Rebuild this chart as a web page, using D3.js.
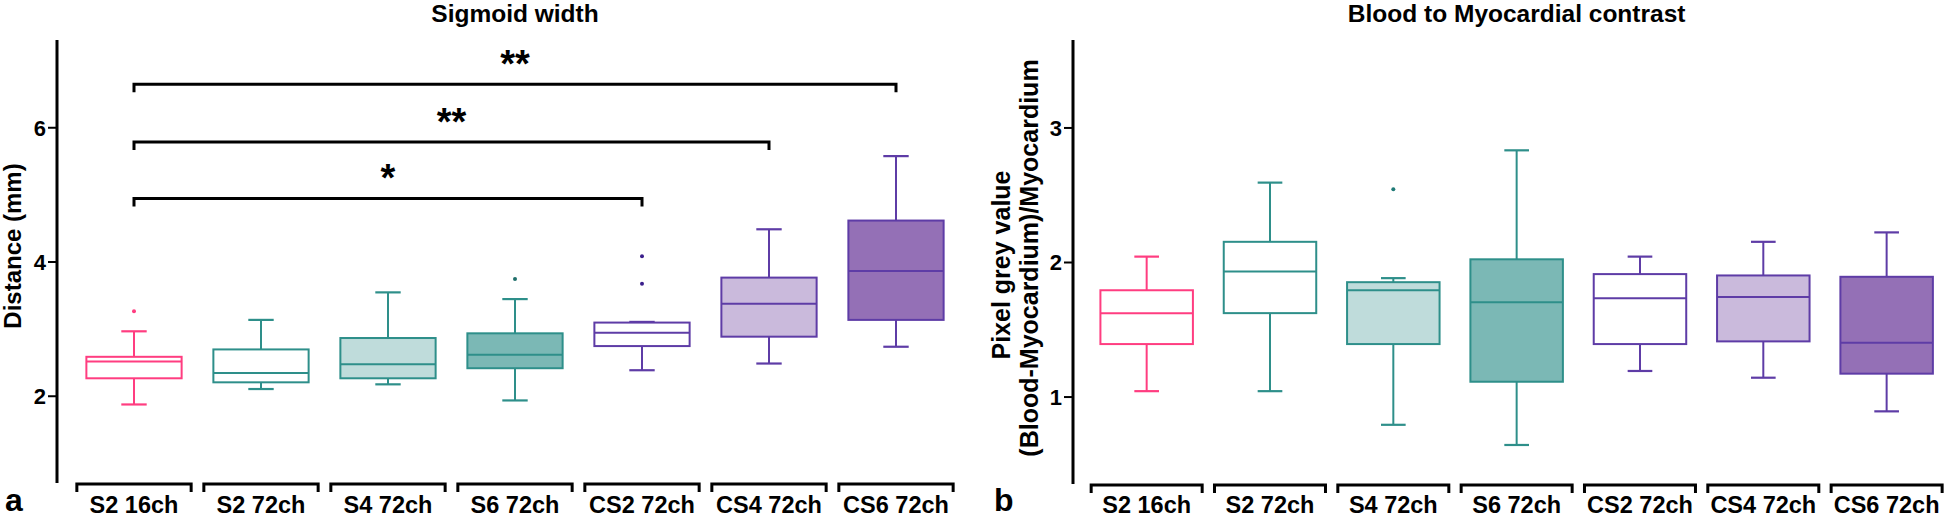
<!DOCTYPE html>
<html><head><meta charset="utf-8">
<script src="https://cdn.jsdelivr.net/npm/d3@7"></script>
<style>
html,body{margin:0;padding:0;background:#fff;}
text{font-family:"Liberation Sans",Arial,Helvetica,sans-serif;font-weight:bold;fill:#000;}
</style></head>
<body><svg id="c" width="1944" height="519"></svg>
<script>
// ---------- data ----------
const categories = ["S2 16ch","S2 72ch","S4 72ch","S6 72ch","CS2 72ch","CS4 72ch","CS6 72ch"];

// Panel a: Sigmoid width (mm)
const sigMin    = [1.87, 2.10, 2.17, 1.93, 2.38, 2.48, 2.73];
const sigQ1     = [2.26, 2.20, 2.26, 2.41, 2.74, 2.88, 3.13];
const sigMedian = [2.51, 2.34, 2.47, 2.61, 2.94, 3.37, 3.86];
const sigQ3     = [2.58, 2.69, 2.86, 2.93, 3.09, 3.76, 4.61];
const sigMax    = [2.96, 3.13, 3.54, 3.44, 3.10, 4.48, 5.57];
const sigOutliers = [[3.26], [], [], [3.74], [4.08, 3.67], [], []];
const sigTicks = [2, 4, 6];

// significance comparisons (panel a)
const compFrom  = ["S2 16ch", "S2 16ch", "S2 16ch"];
const compTo    = ["CS2 72ch", "CS4 72ch", "CS6 72ch"];
const compLevel = [4.94, 5.78, 6.64];
const compLabel = ["*", "**", "**"];

// Panel b: Blood to myocardial contrast
const conMin    = [1.04, 1.04, 0.79, 0.64, 1.19, 1.14, 0.89];
const conQ1     = [1.39, 1.62, 1.39, 1.11, 1.39, 1.41, 1.17];
const conMedian = [1.62, 1.93, 1.79, 1.70, 1.73, 1.74, 1.40];
const conQ3     = [1.79, 2.15, 1.85, 2.02, 1.91, 1.90, 1.89];
const conMax    = [2.04, 2.59, 1.88, 2.83, 2.04, 2.15, 2.22];
const conOutliers = [[], [], [2.54], [], [], [], []];
const conTicks = [1, 2, 3];

// styles per category
const strokeCol = ["#ff3d80","#2e8f8a","#2e8f8a","#2e8f8a","#5e3ca6","#5e3ca6","#5e3ca6"];
const fillCol   = ["#ffffff","#ffffff","#bfdcdb","#7bb8b5","#ffffff","#cabadc","#9470b6"];
const dotCol    = ["#ff3d80","#1f7a76","#1f7a76","#1f6f6b","#3b1f8c","#3b1f8c","#3b1f8c"];

const svg = d3.select("#c");

function panel(opt){
  const g = svg.append("g");
  const x = d3.scaleBand().domain(categories).range(opt.xr).paddingInner(0).paddingOuter(0);
  const y = d3.scaleLinear().domain(opt.yd).range([opt.yb, opt.yt]);
  const step = x.step();
  const cx = c => x(c) + step/2;
  const bw = step*0.75, cw = step*0.2, brw = step*0.9;

  // y axis
  const ax = d3.axisLeft(y).tickValues(opt.ticks).tickSize(9).tickPadding(2).tickFormat(d3.format("d"));
  const ag = g.append("g").attr("transform",`translate(${opt.ax},0)`).call(ax);
  ag.select(".domain").attr("stroke","#000").attr("stroke-width",3).attr("d",`M0,${opt.yt}V${opt.yb}`);
  ag.selectAll(".tick line").attr("stroke","#000").attr("stroke-width",2);
  ag.selectAll(".tick text").style("font-size","22px").style("font-family","'Liberation Sans',Arial,sans-serif").style("font-weight","bold").attr("fill","#000").attr("dy","0.36em");

  // category brackets + labels
  const by = opt.yb + 1;
  categories.forEach(c=>{
    const x0 = cx(c)-brw/2, x1 = cx(c)+brw/2;
    g.append("path").attr("d",`M${x0},${by+8}V${by}H${x1}V${by+8}`)
      .attr("fill","none").attr("stroke","#000").attr("stroke-width",3);
    g.append("text").attr("x",cx(c)).attr("y",513).attr("text-anchor","middle")
      .style("font-size","23.5px").text(c);
  });

  // boxes
  categories.forEach((c,i)=>{
    const X = cx(c);
    const col = strokeCol[i];
    g.append("line").attr("x1",X).attr("x2",X).attr("y1",y(opt.q3[i])).attr("y2",y(opt.max[i])).attr("stroke",col).attr("stroke-width",2);
    g.append("line").attr("x1",X).attr("x2",X).attr("y1",y(opt.q1[i])).attr("y2",y(opt.min[i])).attr("stroke",col).attr("stroke-width",2);
    g.append("line").attr("x1",X-cw/2).attr("x2",X+cw/2).attr("y1",y(opt.max[i])).attr("y2",y(opt.max[i])).attr("stroke",col).attr("stroke-width",2.2);
    g.append("line").attr("x1",X-cw/2).attr("x2",X+cw/2).attr("y1",y(opt.min[i])).attr("y2",y(opt.min[i])).attr("stroke",col).attr("stroke-width",2.2);
    g.append("rect").attr("x",X-bw/2).attr("width",bw)
      .attr("y",y(opt.q3[i])).attr("height",y(opt.q1[i])-y(opt.q3[i]))
      .attr("fill",fillCol[i]).attr("stroke",col).attr("stroke-width",2);
    g.append("line").attr("x1",X-bw/2).attr("x2",X+bw/2).attr("y1",y(opt.med[i])).attr("y2",y(opt.med[i])).attr("stroke",col).attr("stroke-width",2);
    opt.out[i].forEach(v=>{
      g.append("circle").attr("cx",X).attr("cy",y(v)).attr("r",2).attr("fill",dotCol[i]);
    });
  });

  // title
  g.append("text").attr("x",cx(categories[3])).attr("y",22).attr("text-anchor","middle")
    .style("font-size","24.5px").text(opt.title);
  // panel letter
  g.append("text").attr("x",opt.letterX).attr("y",511).style("font-size","32px").text(opt.letter);
  return {g,x,y,cx};
}

const A = panel({xr:[70.5,959.5], yd:[0.7,7.3], yb:483, yt:40, ax:57, ticks:sigTicks,
  min:sigMin,q1:sigQ1,med:sigMedian,q3:sigQ3,max:sigMax,out:sigOutliers,
  title:"Sigmoid width", letter:"a", letterX:5});

// y label a
A.g.append("text").attr("transform","translate(12,246) rotate(-90)").attr("text-anchor","middle")
  .attr("dominant-baseline","central").style("font-size","24px").text("Distance (mm)");

// significance brackets
compFrom.forEach((f,i)=>{
  const x0 = A.cx(f), x1 = A.cx(compTo[i]), yy = A.y(compLevel[i]);
  A.g.append("path").attr("d",`M${x0},${yy+8}V${yy}H${x1}V${yy+8}`)
    .attr("fill","none").attr("stroke","#000").attr("stroke-width",3);
  A.g.append("text").attr("x",(x0+x1)/2).attr("y",yy-7).attr("text-anchor","middle")
    .style("font-size","38px").text(compLabel[i]);
});

const B = panel({xr:[1085,1948.3], yd:[0.35,3.65], yb:484, yt:40, ax:1073, ticks:conTicks,
  min:conMin,q1:conQ1,med:conMedian,q3:conQ3,max:conMax,out:conOutliers,
  title:"Blood to Myocardial contrast", letter:"b", letterX:994});

B.g.append("text").attr("transform","translate(1001,265) rotate(-90)").attr("text-anchor","middle")
  .attr("dominant-baseline","central").style("font-size","25px").text("Pixel grey value");
B.g.append("text").attr("transform","translate(1029,258) rotate(-90)").attr("text-anchor","middle")
  .attr("dominant-baseline","central").style("font-size","25px").text("(Blood-Myocardium)/Myocardium");
</script>
</body></html>
